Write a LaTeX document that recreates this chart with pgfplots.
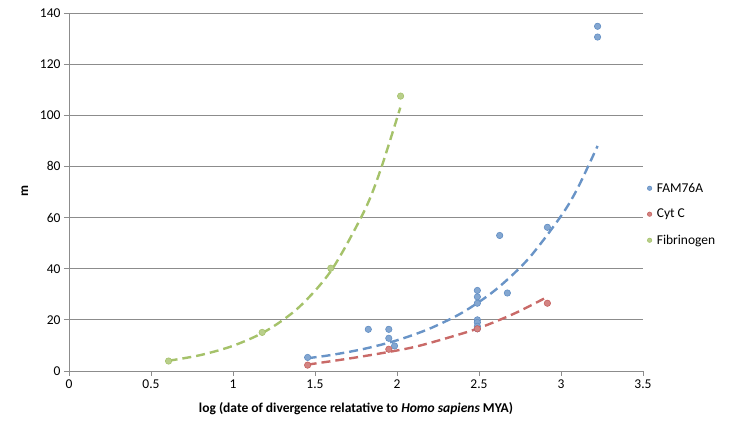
\documentclass[border=0pt]{standalone}
\usepackage{pgfplots}
\pgfplotsset{compat=1.18}
\usepackage{fontspec}
\setmainfont{Carlito}
\definecolor{famblue}{RGB}{79,129,189}
\definecolor{cytred}{RGB}{192,80,77}
\definecolor{fibgreen}{RGB}{155,187,89}
\definecolor{axgray}{RGB}{140,140,140}
\begin{document}
\begin{tikzpicture}
\useasboundingbox (0,0) rectangle (754pt,425pt);
\begin{axis}[
  at={(69pt,54pt)}, anchor=south west,
  scale only axis, width=574pt, height=358pt,
  xmin=0, xmax=3.5, ymin=0, ymax=140,
  xtick={0,0.5,...,3.5}, ytick={0,20,...,140},
  xticklabels={0,0.5,1,1.5,2,2.5,3,3.5},
  axis x line*=bottom, axis y line*=left,
  axis line style={axgray, line width=0.8pt, -},
  ymajorgrids, grid style={axgray, line width=0.8pt},
  tick style={axgray, line width=0.8pt},
  tick align=outside, major tick length=5pt,
  /pgf/number format/assume math mode=true,
  tick label style={font=\fontsize{13.5}{15}\selectfont, black},
  xlabel={\textbf{log (date of divergence relatative to \textit{Homo sapiens} MYA)}},
  xlabel style={at={(axis description cs:0.5,-0.106)}, anchor=center, font=\fontsize{13.5}{15}\selectfont},
  ylabel={\textbf{m}},
  ylabel style={at={(axis description cs:-0.077,0.502)}, anchor=center, font=\fontsize{13.5}{15}\selectfont},
  legend style={at={(axis description cs:1.0,0.537)}, xshift=2pt, anchor=north west, draw=none, fill=none,
    font=\fontsize{13.5}{15}\selectfont, row sep=11.5pt, inner sep=2pt},
  legend cell align=left,
  legend image code/.code={\draw[#1, mark size=2.2pt] plot coordinates {(0pt,0pt)}; \path (-2.2pt,0pt) (5pt,0pt);},
  clip=false,
]
% trendlines
\addplot[forget plot, famblue!85!white, line width=2.4pt, dash pattern=on 9pt off 5pt, smooth] coordinates {
(1.455,5.0) (1.6,6.27) (1.8,8.67) (2.0,12.0) (2.2,16.6) (2.4,22.9) (2.6,31.7) (2.8,43.8) (3.0,60.6) (3.1,71.3) (3.223,88.0)};
\addplot[forget plot, cytred!85!white, line width=2.4pt, dash pattern=on 9pt off 5pt, smooth] coordinates {
(1.455,2.5) (1.7,4.8) (1.9,6.9) (2.1,9.3) (2.3,12.8) (2.5,16.8) (2.72,22.6) (2.917,29.0)};
\addplot[forget plot, fibgreen!90!white, line width=2.4pt, dash pattern=on 9pt off 5pt, smooth] coordinates {
(0.607,4.0) (0.8,6.2) (1.0,9.85) (1.2,15.6) (1.4,24.8) (1.6,39.4) (1.8,62.5) (1.9,78.7) (2.02,103)};
% data
\addplot[only marks, mark=*, mark size=3.2pt, mark options={draw=famblue!90!white, fill=famblue!70!white, line width=0.6pt}] coordinates {
(1.455,5.3) (1.825,16.3) (1.95,16.3) (1.95,12.8) (1.985,9.8)
(2.49,31.5) (2.49,29) (2.49,26.5) (2.49,20) (2.49,19) (2.49,17.5) (2.49,16.5)
(2.626,53) (2.673,30.5) (2.917,56.2) (3.223,134.8) (3.223,130.6)};
\addplot[only marks, mark=*, mark size=3.2pt, mark options={draw=cytred!90!white, fill=cytred!70!white, line width=0.6pt}] coordinates {
(1.455,2.3) (1.95,8.5) (2.49,16.5) (2.917,26.5)};
\addplot[only marks, mark=*, mark size=3.2pt, mark options={draw=fibgreen!90!white, fill=fibgreen!70!white, line width=0.6pt}] coordinates {
(0.607,3.9) (1.178,15.1) (1.596,40.2) (2.022,107.5)};
\legend{FAM76A, Cyt C, Fibrinogen}
\end{axis}
\end{tikzpicture}
\end{document}
